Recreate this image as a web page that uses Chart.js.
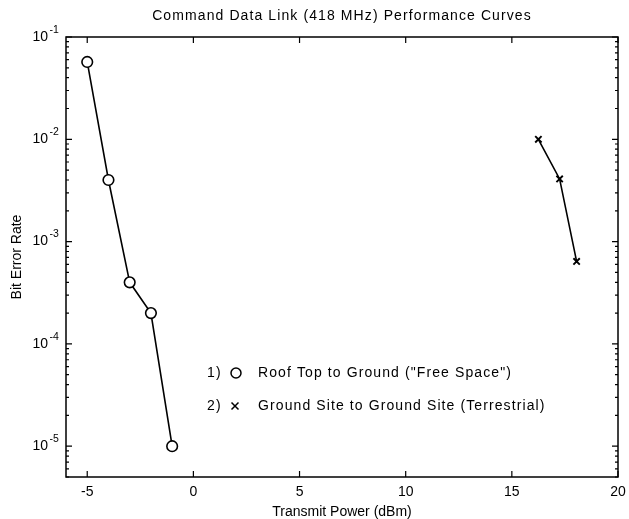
<!DOCTYPE html>
<html>
<head>
<meta charset="utf-8">
<script src="https://cdn.jsdelivr.net/npm/chart.js@4"></script>
<style>
  html, body { margin: 0; padding: 0; background: #fff; }
  #wrap { width: 629px; height: 519px; }
</style>
</head>
<body>
<div id="wrap"><canvas id="berChart" width="629" height="519"></canvas></div>
<script>
// Series data
const freeSpacePower = [-5, -4, -3, -2, -1];
const freeSpaceBer = [0.057, 0.004, 0.0004, 0.0002, 0.00001];
const terrestrialPower = [16.25, 17.25, 18.05];
const terrestrialBer = [0.01, 0.0041, 0.00064];

// Axis ticks
const xTicks = [-5, 0, 5, 10, 15, 20];
const yDecades = [1e-5, 1e-4, 1e-3, 1e-2, 1e-1];

const chartTitle = 'Command Data Link (418 MHz) Performance Curves';
const legendLabels = [
    '1)', 'Roof Top to Ground ("Free Space")',
    '2)', 'Ground Site to Ground Site (Terrestrial)'
];

const FONT = '"Liberation Sans", Arial, Helvetica, sans-serif';

function toPoints(xs, ys) {
    return xs.map((x, i) => ({ x: x, y: ys[i] }));
}

// Frame, inward ticks, y labels, title and the legend inside the plot
const framePlugin = {
    id: 'frame',
    afterDraw(chart) {
        const ctx = chart.ctx;
        const a = chart.chartArea;
        const xs = chart.scales.x;
        const ys = chart.scales.y;
        ctx.save();
        ctx.strokeStyle = '#000';
        ctx.lineWidth = 1.5;
        ctx.strokeRect(a.left, a.top, a.right - a.left, a.bottom - a.top);

        ctx.lineWidth = 1.2;
        ctx.beginPath();
        // x ticks top and bottom
        xTicks.forEach(v => {
            const px = xs.getPixelForValue(v);
            ctx.moveTo(px, a.bottom); ctx.lineTo(px, a.bottom - 6);
            ctx.moveTo(px, a.top); ctx.lineTo(px, a.top + 6);
        });
        // y major and minor ticks left and right
        for (let e = -6; e <= -1; e++) {
            for (let m = 1; m <= 9; m++) {
                const v = m * Math.pow(10, e);
                if (v < ys.min * 0.999 || v > ys.max * 1.001) continue;
                const py = ys.getPixelForValue(v);
                const len = m === 1 ? 6 : 3;
                ctx.moveTo(a.left, py); ctx.lineTo(a.left + len, py);
                ctx.moveTo(a.right, py); ctx.lineTo(a.right - len, py);
            }
        }
        ctx.stroke();

        ctx.fillStyle = '#000';
        ctx.textBaseline = 'middle';

        // y tick labels 10^n
        yDecades.forEach(v => {
            const py = ys.getPixelForValue(v);
            const e = String(Math.round(Math.log10(v)));
            ctx.font = '14px ' + FONT;
            ctx.textAlign = 'right';
            ctx.fillText('10', 48, py);
            ctx.font = '10.5px ' + FONT;
            ctx.textAlign = 'left';
            ctx.fillText(e, 49.5, py - 7);
        });

        // title
        ctx.letterSpacing = '1.1px';
        ctx.font = '14px ' + FONT;
        ctx.textAlign = 'center';
        ctx.fillText(chartTitle, (a.left + a.right) / 2, 16);

        // legend
        ctx.textAlign = 'left';
        const rows = [373, 406];
        rows.forEach((y, i) => {
            ctx.fillText(legendLabels[i * 2], 207, y);
            ctx.fillText(legendLabels[i * 2 + 1], 258, y);
        });
        ctx.letterSpacing = '0px';
        ctx.lineWidth = 1.5;
        ctx.beginPath();
        ctx.arc(236, rows[0], 5, 0, Math.PI * 2);
        ctx.stroke();
        ctx.beginPath();
        ctx.moveTo(231.5, rows[1] - 3.5); ctx.lineTo(238.5, rows[1] + 3.5);
        ctx.moveTo(238.5, rows[1] - 3.5); ctx.lineTo(231.5, rows[1] + 3.5);
        ctx.stroke();
        ctx.restore();
    }
};

const chart = new Chart(document.getElementById('berChart').getContext('2d'), {
    type: 'scatter',
    data: {
        datasets: [
            {
                label: legendLabels[1],
                data: toPoints(freeSpacePower, freeSpaceBer),
                showLine: true,
                borderColor: '#000',
                borderWidth: 1.6,
                pointStyle: 'circle',
                pointRadius: 5.3,
                pointBorderWidth: 1.6,
                pointBackgroundColor: '#fff',
                pointBorderColor: '#000'
            },
            {
                label: legendLabels[3],
                data: toPoints(terrestrialPower, terrestrialBer),
                showLine: true,
                borderColor: '#000',
                borderWidth: 1.6,
                pointStyle: 'crossRot',
                pointRadius: 4.5,
                pointBorderWidth: 1.9,
                pointBorderColor: '#000'
            }
        ]
    },
    options: {
        responsive: false,
        animation: false,
        layout: { padding: { left: 0, right: 11, top: 37, bottom: 0 } },
        plugins: {
            legend: { display: false },
            tooltip: { enabled: false },
            title: { display: false }
        },
        scales: {
            x: {
                type: 'linear',
                min: -6,
                max: 20,
                grid: { display: false, drawTicks: false },
                border: { display: false },
                afterBuildTicks(scale) {
                    scale.ticks = xTicks.map(v => ({ value: v }));
                },
                afterFit(scale) {
                    scale.height = 42;
                    scale.paddingRight = 0;
                    scale.paddingLeft = 0;
                },
                ticks: {
                    color: '#000',
                    padding: 7,
                    maxRotation: 0,
                    font: { family: FONT, size: 14 }
                },
                title: {
                    display: true,
                    text: 'Transmit Power (dBm)',
                    color: '#000',
                    font: { family: FONT, size: 14, lineHeight: 1.0 },
                    padding: { top: 0, bottom: 0 }
                }
            },
            y: {
                type: 'logarithmic',
                min: 5e-6,
                max: 0.1,
                grid: { display: false, drawTicks: false },
                border: { display: false },
                afterBuildTicks(scale) {
                    scale.ticks = yDecades.map(v => ({ value: v, major: true }));
                },
                afterFit(scale) { scale.width = 66; },
                ticks: { display: false },
                title: {
                    display: true,
                    text: 'Bit Error Rate',
                    color: '#000',
                    font: { family: FONT, size: 14 },
                    padding: { top: 9, bottom: 0 }
                }
            }
        }
    },
    plugins: [framePlugin]
});
</script>
</body>
</html>
